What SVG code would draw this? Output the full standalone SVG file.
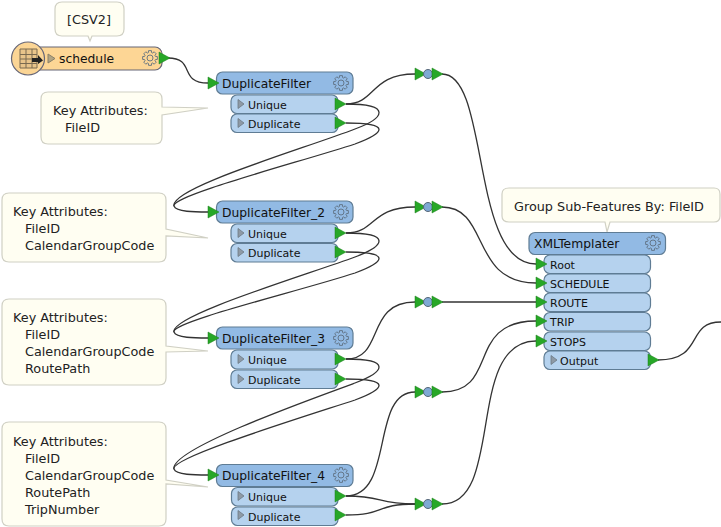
<svg xmlns="http://www.w3.org/2000/svg" width="721" height="527" viewBox="0 0 721 527">
<style>
text{font-family:"DejaVu Sans",sans-serif;fill:#111}
.h{font-size:12.3px}.p{font-size:11px}.a{font-size:12.8px;fill:#222}
.hd{fill:#92bae4;stroke:#5f7c94;stroke-width:1.2}
.pt{fill:#b5d2ee;stroke:#5f7c94;stroke-width:1.2}
.nt{fill:#fffef2;stroke:#d0d0c4;stroke-width:1.2}
.c{fill:none;stroke:#333;stroke-width:1.3}
.tri{fill:#27a727;stroke:#1a7f1a;stroke-width:.5}
.ex{fill:#8e9aa6;stroke:#6c7884;stroke-width:.8}
.jn{fill:#7fa9d4;stroke:#567;stroke-width:1}
</style>
<defs>
<polygon id="t" class="tri" points="0,-6 11,0 0,6"/>
<polygon id="e" class="ex" points="0,-4.500 6,0 0,4.500"/>
<g id="g" fill="none" stroke="#5f6f80" stroke-width=".9"><circle r="3"/><polygon points="5.36,-1.64 7.36,-1.43 7.36,1.43 5.36,1.64 4.95,2.63 6.21,4.19 4.19,6.21 2.63,4.95 1.64,5.36 1.43,7.36 -1.43,7.36 -1.64,5.36 -2.63,4.95 -4.19,6.21 -6.21,4.19 -4.95,2.63 -5.36,1.64 -7.36,1.43 -7.36,-1.43 -5.36,-1.64 -4.95,-2.63 -6.21,-4.19 -4.19,-6.21 -2.63,-4.95 -1.64,-5.36 -1.43,-7.36 1.43,-7.36 1.64,-5.36 2.63,-4.95 4.19,-6.21 6.21,-4.19 4.95,-2.63"/></g>
<g id="j"><use href="#t" x="-13"/><circle class="jn" r="4.500"/><use href="#t" x="4"/></g>
</defs>

<g id="connectors">
<path class="c" d="M168,58C196,58 178,83 208,83"/>
<path class="c" d="M346,104C376,104 370,74 415,74"/>
<path class="c" d="M346,104C392,104 385,118 355,129C300,150 170,188 174,206C176,212 195,212 208,212"/>
<path class="c" d="M346,123C392,123 385,133 355,144C300,162 170,196 174,206"/>
<path class="c" d="M442,74C490,74 470,264 536,264"/>
<path class="c" d="M346,233C376,233 370,207 415,207"/>
<path class="c" d="M346,233C392,233 385,246 355,257C300,277 170,316 174,332C176,338 195,338 208,338"/>
<path class="c" d="M346,252C392,252 385,262 355,273C300,291 170,322 174,332"/>
<path class="c" d="M442,207C490,207 470,283 536,283"/>
<path class="c" d="M346,359C385,359 365,302 415,302"/>
<path class="c" d="M346,359C392,359 385,372 355,383C300,403 170,450 174,469C176,475 195,475 208,475"/>
<path class="c" d="M346,379C392,379 385,389 355,400C300,418 170,458 174,469"/>
<path class="c" d="M442,302H536"/>
<path class="c" d="M346,496C395,496 370,392 415,392"/>
<path class="c" d="M346,496C385,496 375,504 415,504"/>
<path class="c" d="M346,515C385,515 375,504 415,504"/>
<path class="c" d="M442,392C500,392 465,321 536,321"/>
<path class="c" d="M442,504C505,504 465,341 536,341"/>
<path class="c" d="M658,360C705,360 685,322 721,322"/>
</g>

<g id="note-csv"><path class="nt" d="M62,2H117Q124,2 124,9V29Q124,36 117,36H92L90,41L88,36H62Q55,36 55,29V9Q55,2 62,2Z"/><text class="a" x="89" y="24" text-anchor="middle">[CSV2]</text></g>
<g id="schedule">
<rect x="30" y="47" width="132" height="23" rx="7" fill="#fdd695" stroke="#667" stroke-width="1.2"/>
<circle cx="28" cy="58.500" r="16.500" fill="#fbd595" stroke="#667" stroke-width="1.2"/>
<path d="M20,49H37V68H20ZM20,54.500H37M20,59H37M20,63.500H37M26,49V68M32,49V68" fill="#e8c48a" stroke="#7a6a50" stroke-width="1"/>
<path d="M32,58H38V55L43,60.500L38,64V62H32Z" fill="#222"/>
<polygon points="48,54 55,58.500 48,63" fill="#b3a583" stroke="#8a8068"/>
<text x="59" y="63" class="h">schedule</text>
<use href="#g" x="150" y="58"/><use href="#t" x="159" y="58"/>
</g>

<g id="note-1"><path class="nt" d="M48,92H155Q162,92 162,99V107L208,108L162,115V137Q162,144 155,144H48Q41,144 41,137V99Q41,92 48,92Z"/><text class="a"><tspan x="53" y="115">Key Attributes:</tspan><tspan x="65" y="132">FileID</tspan></text></g>
<g id="note-2"><path class="nt" d="M9,193H159Q166,193 166,200V229L208,238L166,236V255Q166,262 159,262H9Q2,262 2,255V200Q2,193 9,193Z"/><text class="a"><tspan x="13" y="216">Key Attributes:</tspan><tspan x="25" y="233">FileID</tspan><tspan x="25" y="250">CalendarGroupCode</tspan></text></g>
<g id="note-3"><path class="nt" d="M9,299H159Q166,299 166,306V346L208,351L166,352V378Q166,385 159,385H9Q2,385 2,378V306Q2,299 9,299Z"/><text class="a"><tspan x="13" y="322">Key Attributes:</tspan><tspan x="25" y="339">FileID</tspan><tspan x="25" y="356">CalendarGroupCode</tspan><tspan x="25" y="373">RoutePath</tspan></text></g>
<g id="note-4"><path class="nt" d="M9,422H159Q166,422 166,429V480L208,487L166,484V519Q166,526 159,526H9Q2,526 2,519V429Q2,422 9,422Z"/><text class="a"><tspan x="13" y="446">Key Attributes:</tspan><tspan x="25" y="463">FileID</tspan><tspan x="25" y="480">CalendarGroupCode</tspan><tspan x="25" y="497">RoutePath</tspan><tspan x="25" y="514">TripNumber</tspan></text></g>
<g id="note-5"><path class="nt" d="M509,188H714Q720,188 720,194V216Q720,222 714,222H610L607,232L605,222H509Q502,222 502,216V194Q502,188 509,188Z"/><text class="a" x="514" y="211">Group Sub-Features By: FileID</text></g>

<g id="df1">
<rect class="pt" x="231" y="95" width="107" height="18.500" rx="6"/><rect class="pt" x="231" y="114" width="107" height="18.500" rx="6"/>
<rect class="hd" x="216.500" y="72" width="136.500" height="22" rx="6"/>
<text class="h" x="222" y="88">DuplicateFilter</text><use href="#g" x="341" y="83"/>
<use href="#e" x="238" y="104"/><text class="p" x="248" y="109">Unique</text><use href="#e" x="238" y="123"/><text class="p" x="248" y="128">Duplicate</text>
<use href="#t" x="208" y="83"/><use href="#t" x="335" y="104"/><use href="#t" x="335" y="123"/>
</g>
<g id="df2">
<rect class="pt" x="231" y="224" width="107" height="18.500" rx="6"/><rect class="pt" x="231" y="243.500" width="107" height="18.500" rx="6"/>
<rect class="hd" x="216.500" y="201" width="136.500" height="22" rx="6"/>
<text class="h" x="222" y="217">DuplicateFilter_2</text><use href="#g" x="341" y="212"/>
<use href="#e" x="238" y="233"/><text class="p" x="248" y="238">Unique</text><use href="#e" x="238" y="252"/><text class="p" x="248" y="257">Duplicate</text>
<use href="#t" x="208" y="212"/><use href="#t" x="335" y="233"/><use href="#t" x="335" y="252"/>
</g>
<g id="df3">
<rect class="pt" x="231" y="350" width="107" height="19" rx="6"/><rect class="pt" x="231" y="370" width="107" height="18.500" rx="6"/>
<rect class="hd" x="216.500" y="327" width="136.500" height="22" rx="6"/>
<text class="h" x="222" y="343">DuplicateFilter_3</text><use href="#g" x="341" y="338"/>
<use href="#e" x="238" y="359"/><text class="p" x="248" y="364">Unique</text><use href="#e" x="238" y="379"/><text class="p" x="248" y="384">Duplicate</text>
<use href="#t" x="208" y="338"/><use href="#t" x="335" y="359"/><use href="#t" x="335" y="379"/>
</g>
<g id="df4">
<rect class="pt" x="231.500" y="487.500" width="106.500" height="18.500" rx="6"/><rect class="pt" x="231.500" y="507" width="106.500" height="18.500" rx="6"/>
<rect class="hd" x="216.500" y="464.500" width="136.500" height="22" rx="6"/>
<text class="h" x="222" y="480">DuplicateFilter_4</text><use href="#g" x="341" y="475"/>
<use href="#e" x="238" y="496"/><text class="p" x="248" y="501">Unique</text><use href="#e" x="238" y="515"/><text class="p" x="248" y="521">Duplicate</text>
<use href="#t" x="208" y="475"/><use href="#t" x="335" y="496"/><use href="#t" x="335" y="515"/>
</g>

<g id="jn1"><use href="#j" x="428" y="74"/></g>
<g id="jn2"><use href="#j" x="428" y="207"/></g>
<g id="jn3"><use href="#j" x="428" y="302"/></g>
<g id="jn4"><use href="#j" x="428" y="392"/></g>
<g id="jn5"><use href="#j" x="428" y="504"/></g>

<g id="xml">
<rect class="pt" x="544" y="255" width="106.500" height="18.500" rx="6"/><rect class="pt" x="544" y="274" width="106.500" height="18.500" rx="6"/><rect class="pt" x="544" y="293" width="106.500" height="18.500" rx="6"/><rect class="pt" x="544" y="312.500" width="106.500" height="18.500" rx="6"/><rect class="pt" x="544" y="332" width="106.500" height="18.500" rx="6"/><rect class="pt" x="544" y="351" width="106.500" height="18.500" rx="6"/>
<rect class="hd" x="529" y="232.500" width="136.500" height="22" rx="6"/>
<text class="h" x="534" y="248">XMLTemplater</text><use href="#g" x="653" y="243"/>
<text class="p" x="550" y="269">Root</text><text class="p" x="550" y="288">SCHEDULE</text><text class="p" x="550" y="307">ROUTE</text><text class="p" x="550" y="326">TRIP</text><text class="p" x="550" y="346">STOPS</text>
<use href="#e" x="551" y="360"/><text class="p" x="560" y="365">Output</text>
<use href="#t" x="536" y="264"/><use href="#t" x="536" y="283"/><use href="#t" x="536" y="302"/><use href="#t" x="536" y="321"/><use href="#t" x="536" y="341"/><use href="#t" x="648" y="360"/>
</g>
</svg>
